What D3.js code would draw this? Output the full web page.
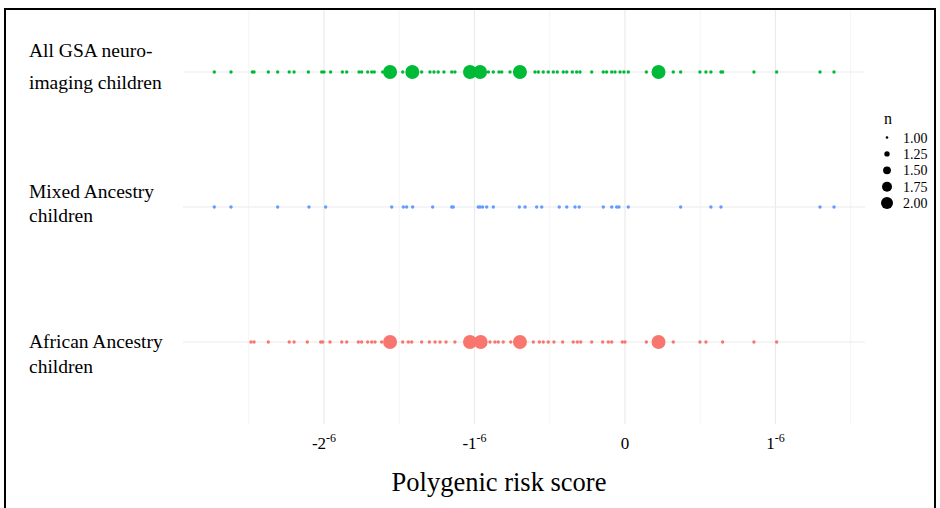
<!DOCTYPE html>
<html>
<head>
<meta charset="utf-8">
<script src="https://cdn.jsdelivr.net/npm/d3@7"></script>
<style>
  body { margin: 0; background: #fff; }
  svg { display: block; }
  text { font-family: "Liberation Serif", "DejaVu Serif", serif; fill: #000; }
</style>
</head>
<body>
<div id="chart"></div>
<script>
// rows, top to bottom
const groups = ["All GSA neuro-imaging children", "Mixed Ancestry children", "African Ancestry children"];
const groupLabels = [["All GSA neuro-", "imaging children"], ["Mixed Ancestry", "children"], ["African Ancestry", "children"]];
const groupColors = ["#00ba38", "#619cff", "#f8766d"];

// polygenic risk scores with count n = 1
const allSingles = [-2.729e-6, -2.618e-6, -2.476e-6, -2.465e-6, -2.370e-6, -2.308e-6, -2.231e-6, -2.199e-6,
  -2.104e-6, -2.015e-6, -2.000e-6, -1.956e-6, -1.878e-6, -1.849e-6, -1.767e-6, -1.750e-6, -1.710e-6,
  -1.683e-6, -1.666e-6, -1.610e-6, -1.477e-6, -1.351e-6, -1.296e-6, -1.269e-6, -1.241e-6, -1.203e-6,
  -1.151e-6, -1.130e-6, -0.908e-6, -0.875e-6, -0.837e-6, -0.819e-6, -0.764e-6, -0.731e-6, -0.598e-6,
  -0.576e-6, -0.543e-6, -0.510e-6, -0.476e-6, -0.450e-6, -0.410e-6, -0.387e-6, -0.350e-6, -0.321e-6,
  -0.299e-6, -0.221e-6, -0.144e-6, -0.122e-6, -0.088e-6, -0.066e-6, -0.033e-6, -0.007e-6, 0.022e-6,
  0.142e-6, 0.321e-6, 0.370e-6, 0.498e-6, 0.538e-6, 0.571e-6, 0.638e-6, 0.649e-6, 0.857e-6, 1.008e-6,
  1.296e-6, 1.389e-6];
const mixedSingles = [-2.729e-6, -2.618e-6, -2.308e-6, -2.100e-6, -1.989e-6, -1.550e-6, -1.473e-6, -1.451e-6,
  -1.411e-6, -1.278e-6, -1.151e-6, -1.141e-6, -0.975e-6, -0.963e-6, -0.946e-6, -0.919e-6, -0.875e-6,
  -0.702e-6, -0.664e-6, -0.587e-6, -0.553e-6, -0.437e-6, -0.387e-6, -0.332e-6, -0.304e-6, -0.144e-6,
  -0.088e-6, -0.055e-6, -0.040e-6, 0.022e-6, 0.370e-6, 0.571e-6, 0.638e-6, 1.296e-6, 1.389e-6];
const africanSingles = [-2.485e-6, -2.465e-6, -2.370e-6, -2.231e-6, -2.199e-6, -2.111e-6, -2.022e-6, -2.009e-6,
  -1.960e-6, -1.882e-6, -1.849e-6, -1.772e-6, -1.750e-6, -1.710e-6, -1.683e-6, -1.661e-6, -1.617e-6,
  -1.477e-6, -1.440e-6, -1.417e-6, -1.351e-6, -1.300e-6, -1.262e-6, -1.229e-6, -1.189e-6, -1.130e-6,
  -0.897e-6, -0.864e-6, -0.842e-6, -0.809e-6, -0.759e-6, -0.731e-6, -0.609e-6, -0.569e-6, -0.543e-6,
  -0.510e-6, -0.472e-6, -0.414e-6, -0.344e-6, -0.317e-6, -0.294e-6, -0.221e-6, -0.148e-6, -0.111e-6,
  -0.088e-6, -0.018e-6, 0.000e-6, 0.142e-6, 0.321e-6, 0.498e-6, 0.538e-6, 0.649e-6, 0.857e-6, 1.008e-6];

// scores with count n = 2
const allDoubles = [-1.561e-6, -1.413e-6, -1.030e-6, -0.963e-6, -0.698e-6, 0.223e-6];
const mixedDoubles = [];
const africanDoubles = [-1.561e-6, -1.030e-6, -0.959e-6, -0.698e-6, 0.223e-6];

const xTicks = [-2e-6, -1e-6, 0, 1e-6];
const xMinorTicks = [-2.5e-6, -1.5e-6, -0.5e-6, 0.5e-6, 1.5e-6];
const legendValues = [1.00, 1.25, 1.50, 1.75, 2.00];

const width = 940, height = 508;
const panel = { left: 183, right: 865, top: 10, bottom: 424 };

const svg = d3.select("#chart").append("svg")
    .attr("width", width)
    .attr("height", height);

const x = d3.scaleLinear()
    .domain([-2.937e-6, 1.595e-6])
    .range([panel.left, panel.right]);

const y = d3.scalePoint()
    .domain(groups)
    .range([72, 342]);

const size = d3.scalePow().exponent(0.35)
    .domain([1, 2])
    .range([1.7, 7]);

const legendSize = d3.scalePow().exponent(0.35)
    .domain([1, 2])
    .range([1.3, 6]);

// grid
const grid = svg.append("g");
grid.selectAll(".minor")
    .data(xMinorTicks)
    .enter().append("line")
    .attr("x1", d => x(d)).attr("x2", d => x(d))
    .attr("y1", panel.top).attr("y2", panel.bottom)
    .attr("stroke", "#f4f4f4")
    .attr("stroke-width", 1);
grid.selectAll(".major")
    .data(xTicks)
    .enter().append("line")
    .attr("x1", d => x(d)).attr("x2", d => x(d))
    .attr("y1", panel.top).attr("y2", panel.bottom)
    .attr("stroke", "#ebebeb")
    .attr("stroke-width", 1.2);
grid.selectAll(".row")
    .data(groups)
    .enter().append("line")
    .attr("x1", panel.left).attr("x2", panel.right)
    .attr("y1", d => y(d)).attr("y2", d => y(d))
    .attr("stroke", "#ebebeb")
    .attr("stroke-width", 1.2);

// points, singles first then doubles on top
const series = [
  { group: groups[0], color: groupColors[0], singles: allSingles, doubles: allDoubles },
  { group: groups[1], color: groupColors[1], singles: mixedSingles, doubles: mixedDoubles },
  { group: groups[2], color: groupColors[2], singles: africanSingles, doubles: africanDoubles }
];
let points = [];
series.forEach(s => {
  s.singles.forEach(v => points.push({ group: s.group, color: s.color, prs: v, n: 1 }));
  s.doubles.forEach(v => points.push({ group: s.group, color: s.color, prs: v, n: 2 }));
});

svg.append("g")
    .selectAll("circle")
    .data(points)
    .enter().append("circle")
    .attr("cx", d => x(d.prs))
    .attr("cy", d => y(d.group))
    .attr("r", d => size(d.n))
    .attr("fill", d => d.color);

// row labels
const labelOffsets = [[-15, 17], [-9, 15], [6, 31]];
const rowLabels = svg.append("g");
groups.forEach((g, i) => {
  rowLabels.append("text")
    .attr("x", 29)
    .attr("font-size", 19.5)
    .selectAll("tspan")
    .data(groupLabels[i])
    .enter().append("tspan")
    .attr("x", 29)
    .attr("y", (d, j) => y(g) + labelOffsets[i][j])
    .text(d => d);
});

// x axis labels, written as mantissa with a superscript exponent
const xLabels = svg.append("g")
    .selectAll("text")
    .data(xTicks)
    .enter().append("text")
    .attr("x", d => x(d))
    .attr("y", 449)
    .attr("text-anchor", "middle")
    .attr("font-size", 17);
xLabels.append("tspan").text(d => String(Math.round(d * 1e6)));
xLabels.filter(d => d !== 0).append("tspan")
    .attr("font-size", 12)
    .attr("dy", -7.5)
    .text("-6");

svg.append("text")
    .attr("x", 499)
    .attr("y", 491)
    .attr("text-anchor", "middle")
    .attr("font-size", 26.5)
    .text("Polygenic risk score");

// size legend
const legend = svg.append("g").attr("transform", "translate(887, 0)");
legend.append("text")
    .attr("x", 1)
    .attr("y", 124)
    .attr("text-anchor", "middle")
    .attr("font-size", 16)
    .text("n");
const items = legend.selectAll(".item")
    .data(legendValues)
    .enter().append("g")
    .attr("transform", (d, i) => `translate(0, ${137.5 + i * 16.4})`);
items.append("circle")
    .attr("r", d => legendSize(d))
    .attr("fill", "#000");
items.append("text")
    .attr("x", 16)
    .attr("dy", 5)
    .attr("font-size", 14)
    .text(d => d3.format(".2f")(d));

// frame around the figure
svg.append("path")
    .attr("d", `M5,${height} V9 H935 V${height}`)
    .attr("fill", "none")
    .attr("stroke", "#000")
    .attr("stroke-width", 2);
</script>
</body>
</html>
